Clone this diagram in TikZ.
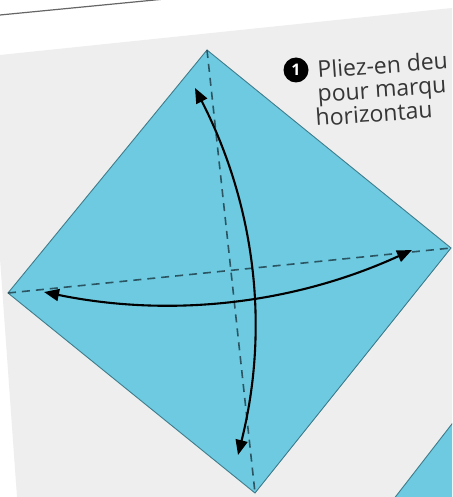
\documentclass[tikz,border=0pt]{standalone}
\usepackage{fontspec}
\setmainfont{Open Sans}
\usetikzlibrary{arrows.meta}
\definecolor{paper}{HTML}{EEEEEE}
\definecolor{sheet}{HTML}{6DCAE0}
\definecolor{sheetedge}{HTML}{3F7C8C}
\definecolor{foldc}{HTML}{2B5563}
\definecolor{txt}{HTML}{363636}
\tikzset{
  sheetshape/.style={fill=sheet, draw=sheetedge, line width=0.9pt, line join=miter},
  foldline/.style={draw=foldc, line width=1.6pt, dash pattern=on 8pt off 6pt},
  foldarrow/.style={draw=black, line width=2.1pt, {Triangle[length=15pt,width=12pt]}-{Triangle[length=15pt,width=12pt]}},
  label/.style={anchor=base west, rotate=4, font=\fontsize{23}{24}\selectfont, text=txt, inner sep=0pt},
}
\begin{document}
\begin{tikzpicture}[x=1pt,y=-1pt]
\useasboundingbox (0,0) rectangle (452,497);
\clip (0,0) rectangle (452,497);
\fill[white] (0,0) rectangle (452,497);
% page
\fill[paper] (0,55) -- (452,8) -- (452,497) -- (17,497) -- (0,258) -- cycle;
\draw[gray!80!black, line width=1.2pt] (0,15) -- (165,-1);
% corners of the sheet
\coordinate (T) at (207,50);
\coordinate (R) at (451,248);
\coordinate (B) at (255,493);
\coordinate (L) at (8,293);
\path[sheetshape] (T) -- (R) -- (B) -- (L) -- cycle;
% next sheet (partial)
\path[sheetshape] (393,500) -- (455,420) -- (455,500) -- cycle;
% folds
\draw[foldline] (T) -- (B);
\draw[foldline] (L) -- (R);
% arrows
\coordinate (vt) at (195,88);
\coordinate (vb) at (238,455);
\coordinate (hl) at (44,292);
\coordinate (hr) at (412,250);
\draw[foldarrow] (vt) .. controls (255,205) and (270,327) .. (vb);
\draw[foldarrow] (hl) .. controls (171,318) and (294,304) .. (hr);
% text
\node[circle, fill=black, minimum size=25pt, inner sep=0pt, text=white, font=\bfseries\fontsize{16}{16}\selectfont] (num) at (296,70) {1};
\node[label] (l1) at (318,78) {Pliez-en deu};
\node[label] (l2) at (318,102) {pour marqu};
\node[label] (l3) at (316,126) {horizontau};
\end{tikzpicture}
\end{document}
